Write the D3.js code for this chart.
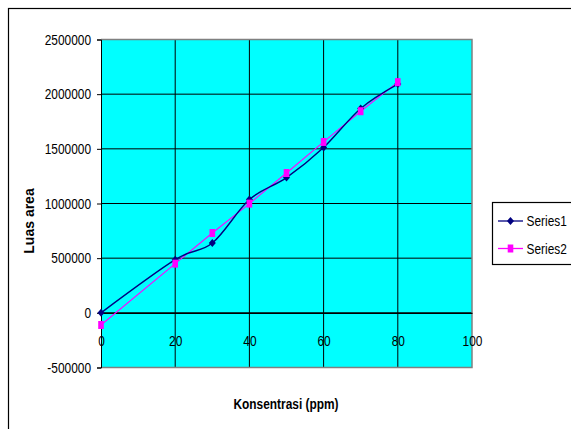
<!DOCTYPE html>
<html>
<head>
<meta charset="utf-8">
<script src="https://cdn.jsdelivr.net/npm/d3@7"></script>
<style>
  html, body { margin: 0; padding: 0; background: #fff; overflow: hidden; }
  svg { display: block; }
  text { font-family: "Liberation Sans", Arial, sans-serif; }
</style>
</head>
<body>
<svg id="chart" width="571" height="429"></svg>
<script>
// Calibration data: peak area against concentration
const concentration = [0, 20, 30, 40, 50, 60, 70, 80];
const series1 = [0, 486000, 638000, 1036000, 1237000, 1512000, 1869000, 2092000];
const series2 = [-111000, 450000, 730000, 999000, 1279000, 1563000, 1844000, 2110000];
const seriesNames = ["Series1", "Series2"];
const xTicks = [0, 20, 40, 60, 80, 100];
const yTicks = [-500000, 0, 500000, 1000000, 1500000, 2000000, 2500000];
const xTitle = "Konsentrasi (ppm)";
const yTitle = "Luas area";

const svg = d3.select("#chart");
const plot = { left: 101, right: 472, top: 39.5, bottom: 367.5 };

const x = d3.scaleLinear().domain([0, 100]).range([plot.left, plot.right]);
const y = d3.scaleLinear().domain([-500000, 2500000]).range([plot.bottom, plot.top]);

// horizontal labels use a condensed face: squeeze the glyphs to 82% width
function condense(sel) {
  sel.each(function () {
    const w = this.getComputedTextLength();
    d3.select(this).attr("textLength", w * 0.82).attr("lengthAdjust", "spacingAndGlyphs");
  });
}

// chart area frame
svg.append("rect")
  .attr("x", 8.5).attr("y", 8.5).attr("width", 700).attr("height", 600)
  .attr("fill", "#fff").attr("stroke", "#000").attr("stroke-width", 1.2);

// plot area background
svg.append("rect")
  .attr("x", plot.left).attr("y", plot.top)
  .attr("width", plot.right - plot.left).attr("height", plot.bottom - plot.top)
  .attr("fill", "#00FFFF");

// gridlines
const grid = svg.append("g").attr("stroke", "#000").attr("stroke-width", 1);
grid.selectAll("line.h").data(yTicks.slice(1, -1)).join("line")
  .attr("x1", plot.left).attr("x2", plot.right)
  .attr("y1", d => y(d)).attr("y2", d => y(d));
grid.selectAll("line.v").data(xTicks.slice(1, -1)).join("line")
  .attr("y1", plot.top).attr("y2", plot.bottom)
  .attr("x1", d => x(d)).attr("x2", d => x(d));

// plot area border
svg.append("path")
  .attr("d", `M${plot.left},${plot.top}H${plot.right}V${plot.bottom}H${plot.left}`)
  .attr("fill", "none").attr("stroke", "#808080").attr("stroke-width", 1.5);

// y axis
const yAxis = svg.append("g")
  .attr("transform", `translate(${plot.left},0)`)
  .call(d3.axisLeft(y).tickValues(yTicks).tickFormat(d => String(d)).tickSize(4).tickPadding(6));
yAxis.select(".domain").attr("stroke", "#000");
yAxis.selectAll(".tick line").attr("stroke", "#000");
yAxis.selectAll("text").attr("font-family", null).attr("font-size", 14.5).attr("fill", "#000").call(condense);

// x axis crossing at zero
const xAxis = svg.append("g")
  .attr("transform", `translate(0,${y(0)})`)
  .call(d3.axisBottom(x).tickValues(xTicks).tickFormat(d => String(d)).tickSize(0).tickPadding(23));
xAxis.select(".domain").attr("stroke", "#000").attr("stroke-width", 1.2);
xAxis.selectAll("text").attr("font-family", null).attr("font-size", 14.5).attr("fill", "#000").call(condense);

// series lines
const line1 = d3.line().x((d, i) => x(concentration[i])).y(d => y(d)).curve(d3.curveCardinal.tension(0));
const line2 = d3.line().x((d, i) => x(concentration[i])).y(d => y(d));

svg.append("path").datum(series2).attr("d", line2)
  .attr("fill", "none").attr("stroke", "#FF00FF").attr("stroke-width", 1.1);
svg.append("path").datum(series1).attr("d", line1)
  .attr("fill", "none").attr("stroke", "#000080").attr("stroke-width", 1.4);

const diamond = "M0,-4L3.5,0L0,4L-3.5,0Z";
const square = "M-2.8,-4H2.8V4H-2.8Z";

svg.append("g").selectAll("path").data(series1).join("path")
  .attr("transform", (d, i) => `translate(${x(concentration[i])},${y(d)})`)
  .attr("d", diamond).attr("fill", "#000080");
svg.append("g").selectAll("path").data(series2).join("path")
  .attr("transform", (d, i) => `translate(${x(concentration[i])},${y(d)})`)
  .attr("d", square).attr("fill", "#FF00FF");

// axis titles
svg.append("text")
  .attr("x", 286).attr("y", 409)
  .attr("text-anchor", "middle")
  .attr("font-size", 14.5).attr("font-weight", "bold")
  .text(xTitle)
  .call(condense);
svg.append("text")
  .attr("transform", "translate(34,221) rotate(-90)")
  .attr("text-anchor", "middle")
  .attr("font-size", 14).attr("font-weight", "bold")
  .text(yTitle);

// legend
const legend = svg.append("g");
legend.append("rect")
  .attr("x", 492.5).attr("y", 202.5).attr("width", 100).attr("height", 62)
  .attr("fill", "#fff").attr("stroke", "#000").attr("stroke-width", 1.2);
const legendColors = ["#000080", "#FF00FF"];
const legendMarks = [diamond, square];
const rows = legend.selectAll("g.row").data(seriesNames).join("g")
  .attr("transform", (d, i) => `translate(0,${221 + i * 27.5})`);
rows.append("line")
  .attr("x1", 498).attr("x2", 523).attr("y1", 0).attr("y2", 0)
  .attr("stroke", (d, i) => legendColors[i]).attr("stroke-width", 1.3);
rows.append("path")
  .attr("transform", "translate(510.5,0)")
  .attr("d", (d, i) => legendMarks[i])
  .attr("fill", (d, i) => legendColors[i]);
rows.append("g")
  .attr("transform", "translate(526.5,0) scale(0.82,1)")
  .append("text")
  .attr("x", 0).attr("y", 0).attr("dy", "0.35em")
  .attr("font-size", 14.5).attr("fill", "#000")
  .text(d => d);
</script>
</body>
</html>
